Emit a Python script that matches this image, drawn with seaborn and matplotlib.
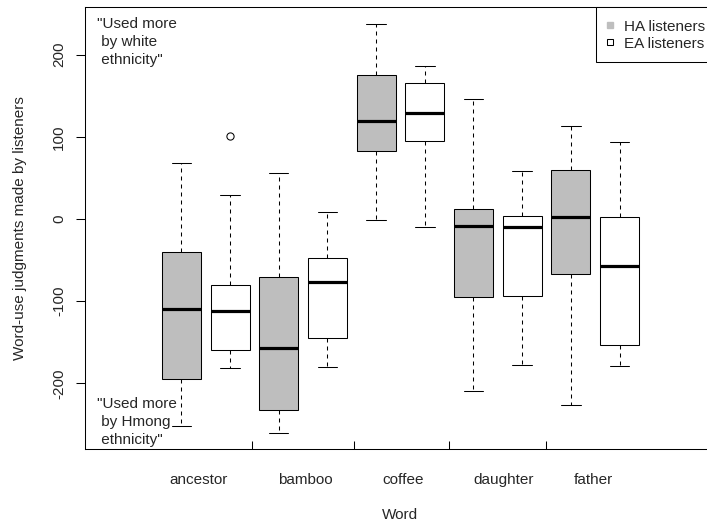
import matplotlib
matplotlib.use("Agg")
import matplotlib.pyplot as plt
from matplotlib.lines import Line2D
import seaborn as sns

# Word-use judgments: five-number summaries per word and listener group
words = ["ancestor", "bamboo", "coffee", "daughter", "father"]
groups = ["HA listeners", "EA listeners"]

ha_whislo = [-251.8, -260.3, -0.9, -209.2, -226.3]
ha_q1 = [-195.0, -232.4, 82.2, -95.4, -67.4]
ha_med = [-109.5, -156.6, 119.6, -8.2, 2.8]
ha_q3 = [-40.1, -70.6, 175.2, 12.5, 59.6]
ha_whishi = [68.5, 56.0, 237.6, 146.0, 112.7]
ha_outliers = [[], [], [], [], []]

ea_whislo = [-181.3, -180.0, -9.4, -177.3, -178.5]
ea_q1 = [-159.4, -145.2, 94.9, -93.7, -153.3]
ea_med = [-111.6, -76.3, 128.5, -9.7, -57.2]
ea_q3 = [-80.3, -47.4, 165.4, 4.0, 2.4]
ea_whishi = [29.6, 8.0, 186.5, 58.8, 93.7]
ea_outliers = [[100.5], [], [], [], []]

y_ticks = [-200, -100, 0, 100, 200]

sns.set_theme(style="white")
plt.rcParams["font.family"] = ["Liberation Sans", "DejaVu Sans"]
plt.rcParams["font.size"] = 11

GREY = "#bebebe"
LW = 0.75

fig = plt.figure(figsize=(7.07, 5.27), dpi=100)
W, H = 707, 527
ax_left, ax_right, ax_top, ax_bottom = 85.0, 715.9, 7.3, 449.3
ax = fig.add_axes([ax_left / W, 1 - ax_bottom / H,
                   (ax_right - ax_left) / W, (ax_bottom - ax_top) / H])

stats, positions, colors = [], [], []
for i in range(len(words)):
    for g, (lo, q1, md, q3, hi, fl, col) in enumerate([
        (ha_whislo, ha_q1, ha_med, ha_q3, ha_whishi, ha_outliers, GREY),
        (ea_whislo, ea_q1, ea_med, ea_q3, ea_whishi, ea_outliers, "white"),
    ]):
        stats.append(dict(whislo=lo[i], q1=q1[i], med=md[i], q3=q3[i],
                          whishi=hi[i], fliers=fl[i], label=f"{words[i]}.{groups[g]}"))
        positions.append(2 * i + g + 1)
        colors.append(col)

dash = (0, (3.84, 3.84))
bp = ax.bxp(stats, positions=positions, widths=0.8, capwidths=0.4,
            patch_artist=True, manage_ticks=False,
            boxprops=dict(edgecolor="black", linewidth=LW),
            medianprops=dict(color="black", linewidth=2.3, solid_capstyle="butt"),
            whiskerprops=dict(color="black", linewidth=LW, linestyle=dash),
            capprops=dict(color="black", linewidth=LW),
            flierprops=dict(marker="o", markerfacecolor="none",
                            markeredgecolor="black", markersize=5.2,
                            markeredgewidth=LW))
for patch, col in zip(bp["boxes"], colors):
    patch.set_facecolor(col)

# axis ranges: R-style 4% padding
all_lo = min(ha_whislo + ea_whislo)
all_hi = max(ha_whishi + ea_whishi + [v for o in ea_outliers + ha_outliers for v in o])
pad = 0.04 * (all_hi - all_lo)
ax.set_ylim(all_lo - pad, all_hi + pad)
ax.set_xlim(-0.98, 11.98)

for s in ax.spines.values():
    s.set_visible(True)
    s.set_color("black")
    s.set_linewidth(LW)

ax.set_yticks(y_ticks)
ax.set_yticklabels([str(v) for v in y_ticks], rotation=90, va="center")
ax.tick_params(axis="y", which="major", direction="out", length=6.5,
               width=LW, color="black", pad=7, labelsize=11, left=True)

ax.set_xticks([1.36, 3.55, 5.55, 7.62, 9.47])
ax.set_xticklabels(words)
ax.set_xticks([2.45, 4.55, 6.5, 8.5], minor=True)
ax.tick_params(axis="x", which="major", length=0, pad=17, labelsize=11)
ax.tick_params(axis="x", which="minor", direction="in", length=5.8,
               width=LW, color="black", bottom=True)
ax.grid(False)

fig.text(20 / W, 1 - 228 / H, "Word-use judgments made by listeners",
         rotation=90, ha="center", va="center", fontsize=11)
fig.text(400 / W, 1 - 515 / H, "Word", ha="center", va="center", fontsize=11)

ax.text(-0.74, 245.3, "\"Used more\n by white\n ethnicity\"", ha="left",
        va="top", fontsize=11, linespacing=1.37)
ax.text(-0.74, -216.6, "\"Used more\n by Hmong\n ethnicity\"", ha="left",
        va="top", fontsize=11, linespacing=1.37)

handles = [
    Line2D([], [], linestyle="none", marker="s", markersize=4.6,
           markerfacecolor=GREY, markeredgecolor=GREY),
    Line2D([], [], linestyle="none", marker="s", markersize=4.0,
           markerfacecolor="white", markeredgecolor="black", markeredgewidth=LW),
]
leg = ax.legend(handles, groups, loc="upper right", bbox_to_anchor=(1, 1),
                borderaxespad=0, fancybox=False, frameon=True, fontsize=11,
                borderpad=0.72, handlelength=0.33, handletextpad=0.75,
                handleheight=1.22, labelspacing=0.05)
leg.get_frame().set_edgecolor("black")
leg.get_frame().set_linewidth(LW)
leg.get_frame().set_alpha(1)

fig.savefig("out.png", dpi=100)
